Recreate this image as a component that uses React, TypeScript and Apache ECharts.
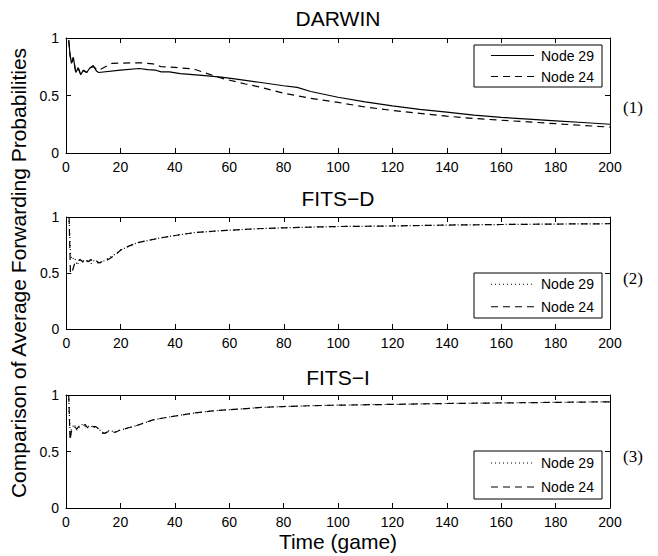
import React, { useEffect, useRef } from "react";
import * as echarts from "echarts";

// ---- tick values ----
const xTicks = [0, 20, 40, 60, 80, 100, 120, 140, 160, 180, 200];
const yTicks = [0, 0.5, 1];

// ---- panel titles ----
const panelTitles = ["DARWIN", "FITS\u2212D", "FITS\u2212I"];
const panelTags = ["(1)", "(2)", "(3)"];
const seriesNames = ["Node 29", "Node 24"];

// ---- DARWIN ----
const darwinX29 = [1, 1.5, 2, 2.7, 3.6, 4.5, 5.4, 6.4, 7.6, 8.8, 10, 11.3, 12, 20, 27, 30, 33, 35, 38, 42, 50, 57, 62, 71, 80, 85, 90, 100, 110, 120, 130, 140, 150, 160, 170, 180, 190, 200];
const darwinY29 = [0.98, 0.85, 0.78, 0.83, 0.7, 0.74, 0.68, 0.72, 0.7, 0.74, 0.76, 0.71, 0.7, 0.72, 0.735, 0.725, 0.72, 0.705, 0.705, 0.69, 0.675, 0.66, 0.645, 0.615, 0.585, 0.57, 0.535, 0.485, 0.445, 0.41, 0.38, 0.355, 0.33, 0.31, 0.295, 0.28, 0.265, 0.25];
const darwinX24 = [1, 1.5, 2, 2.7, 3.6, 4.5, 5.4, 6.4, 7.6, 8.8, 10, 12, 17, 27, 32, 35, 40, 47, 52, 58, 66, 71, 80, 90, 100, 110, 120, 130, 140, 150, 160, 170, 180, 190, 200];
const darwinY24 = [0.98, 0.85, 0.78, 0.83, 0.7, 0.74, 0.68, 0.72, 0.7, 0.74, 0.75, 0.72, 0.78, 0.785, 0.775, 0.75, 0.745, 0.73, 0.69, 0.645, 0.6, 0.575, 0.52, 0.475, 0.44, 0.4, 0.37, 0.345, 0.32, 0.3, 0.285, 0.27, 0.255, 0.24, 0.225];

// ---- FITS-D ----
const fitsdX = [1, 1.5, 2, 3, 4, 5, 6, 7, 8, 9, 10, 11, 12, 13, 14, 16, 18, 20, 23, 26, 30, 35, 40, 47, 55, 60, 70, 80, 90, 100, 120, 140, 160, 180, 200];
const fitsdY29 = [1.0, 0.68, 0.62, 0.64, 0.57, 0.62, 0.6, 0.6, 0.62, 0.58, 0.61, 0.6, 0.58, 0.6, 0.61, 0.64, 0.67, 0.705, 0.74, 0.77, 0.79, 0.815, 0.835, 0.86, 0.875, 0.882, 0.895, 0.903, 0.91, 0.915, 0.92, 0.928, 0.933, 0.937, 0.94];
const fitsdY24 = [1.0, 0.5, 0.5, 0.58, 0.6, 0.62, 0.6, 0.63, 0.6, 0.62, 0.6, 0.61, 0.59, 0.6, 0.6, 0.63, 0.66, 0.705, 0.74, 0.77, 0.79, 0.815, 0.835, 0.86, 0.875, 0.882, 0.895, 0.903, 0.91, 0.915, 0.92, 0.928, 0.933, 0.937, 0.94];

// ---- FITS-I ----
const fitsiX = [1, 1.5, 2, 3, 4, 5, 6, 7, 8, 9, 10, 11, 12, 13, 14, 16, 18, 20, 23, 26, 32, 39, 47, 54, 64, 72, 80, 90, 100, 120, 140, 160, 180, 200];
const fitsiY29 = [1.0, 0.65, 0.7, 0.74, 0.69, 0.72, 0.74, 0.72, 0.73, 0.71, 0.73, 0.7, 0.71, 0.67, 0.65, 0.69, 0.67, 0.69, 0.71, 0.73, 0.78, 0.81, 0.84, 0.86, 0.876, 0.89, 0.898, 0.905, 0.91, 0.917, 0.925, 0.93, 0.935, 0.94];
const fitsiY24 = [1.0, 0.6, 0.68, 0.72, 0.7, 0.73, 0.72, 0.74, 0.71, 0.73, 0.72, 0.72, 0.7, 0.68, 0.66, 0.68, 0.67, 0.69, 0.71, 0.73, 0.78, 0.81, 0.84, 0.86, 0.876, 0.89, 0.898, 0.905, 0.91, 0.917, 0.925, 0.93, 0.935, 0.94];

const FONT = "'Liberation Sans', Arial, Helvetica, sans-serif";
const SERIF = "'Liberation Serif', 'Times New Roman', serif";

const zip = (xs: number[], ys: number[]) => xs.map((x, i) => [x, ys[i]]);

export default function App() {
  const ref = useRef<HTMLDivElement>(null);
  useEffect(() => {
    if (!ref.current) return;
    const chart = echarts.init(ref.current, null, { renderer: "svg" });

    const plotLeft = 66;
    const plotWidth = 544;
    const grids = [
      { top: 38, height: 115 },
      { top: 217, height: 112 },
      { top: 395, height: 113 },
    ];

    const xAxes: any[] = [];
    const yAxes: any[] = [];
    grids.forEach((_, i) => {
      const base = {
        gridIndex: i,
        type: "value",
        min: xTicks[0],
        max: xTicks[xTicks.length - 1],
        interval: xTicks[1] - xTicks[0],
        splitLine: { show: false },
        axisLine: { show: true, onZero: false, lineStyle: { color: "#000", width: 1 } },
        axisTick: { show: true, inside: true, length: 5, lineStyle: { color: "#000" } },
      };
      xAxes.push({
        ...base,
        position: "bottom",
        axisLabel: { show: true, color: "#000", fontSize: 14, fontFamily: FONT, margin: 7 },
        ...(i === 2
          ? {
              name: "Time (game)",
              nameLocation: "middle",
              nameGap: 23,
              nameTextStyle: { color: "#000", fontSize: 21, fontFamily: FONT },
            }
          : {}),
      });
      xAxes.push({ ...base, position: "top", axisLabel: { show: false } });
      const ybase = {
        gridIndex: i,
        type: "value",
        min: yTicks[0],
        max: yTicks[yTicks.length - 1],
        interval: yTicks[1] - yTicks[0],
        splitLine: { show: false },
        axisLine: { show: true, onZero: false, lineStyle: { color: "#000", width: 1 } },
        axisTick: { show: true, inside: true, length: 5, lineStyle: { color: "#000" } },
      };
      yAxes.push({
        ...ybase,
        position: "left",
        axisLabel: { show: true, color: "#000", fontSize: 14, fontFamily: FONT, margin: 7 },
        ...(i === 1
          ? {
              name: "Comparison of Average Forwarding Probabilities",
              nameLocation: "middle",
              nameGap: 31,
              nameTextStyle: { color: "#000", fontSize: 21, fontFamily: FONT },
            }
          : {}),
      });
      yAxes.push({ ...ybase, position: "right", axisLabel: { show: false } });
    });

    const solid = { color: "#000", width: 1.2, type: "solid" };
    const dashed = { color: "#000", width: 1.2, type: [7, 5] };
    const dotted = { color: "#000", width: 1.2, type: [1, 3] };

    const mk = (name: string, gi: number, data: number[][], ls: any) => ({
      type: "line",
      name,
      xAxisIndex: gi * 2,
      yAxisIndex: gi * 2,
      data,
      symbol: "none",
      lineStyle: ls,
      itemStyle: { color: "#000" },
    });

    const series = [
      mk(seriesNames[0], 0, zip(darwinX29, darwinY29), solid),
      mk(seriesNames[1], 0, zip(darwinX24, darwinY24), dashed),
      mk(seriesNames[0], 1, zip(fitsdX, fitsdY29), dotted),
      mk(seriesNames[1], 1, zip(fitsdX, fitsdY24), dashed),
      mk(seriesNames[0], 2, zip(fitsiX, fitsiY29), dotted),
      mk(seriesNames[1], 2, zip(fitsiX, fitsiY24), dashed),
    ];

    const legendBoxes = [
      { y: 45, h: 42, dash: [null, [7, 5]] as any[] },
      { y: 273, h: 45, dash: [[1, 3], [7, 5]] as any[] },
      { y: 451, h: 48, dash: [[1, 3], [7, 5]] as any[] },
    ];
    const graphics: any[] = [];
    legendBoxes.forEach((lb) => {
      const rowGap = lb.h / 2;
      const r1 = lb.y + lb.h / 2 - rowGap / 2;
      const r2 = lb.y + lb.h / 2 + rowGap / 2;
      const children: any[] = [
        { type: "rect", shape: { x: 474, y: lb.y, width: 128, height: lb.h }, style: { fill: "#fff", stroke: "#000", lineWidth: 1 } },
      ];
      [r1, r2].forEach((ry, k) => {
        children.push({
          type: "line",
          shape: { x1: 491, y1: ry, x2: 534, y2: ry },
          style: { stroke: "#000", lineWidth: 1.2, lineDash: lb.dash[k] || undefined },
        });
        children.push({
          type: "text",
          x: 541,
          y: ry,
          style: { text: seriesNames[k], fill: "#000", fontSize: 14, fontFamily: FONT, verticalAlign: "middle" },
        });
      });
      graphics.push({ type: "group", z: 100, children });
    });

    const titleY = [18, 198, 377];
    titleY.forEach((ty, i) => {
      graphics.push({
        type: "text",
        x: plotLeft + plotWidth / 2,
        y: ty,
        z: 100,
        style: { text: panelTitles[i], fill: "#000", fontSize: 21, fontFamily: FONT, align: "center", verticalAlign: "middle" },
      });
    });
    const tagY = [107, 278, 456];
    tagY.forEach((ty, i) => {
      graphics.push({
        type: "text",
        x: 633,
        y: ty,
        z: 100,
        style: { text: panelTags[i], fill: "#000", fontSize: 17, fontFamily: SERIF, align: "center", verticalAlign: "middle" },
      });
    });

    chart.setOption({
      animation: false,
      backgroundColor: "#fff",
      grid: grids.map((g) => ({ left: plotLeft, width: plotWidth, top: g.top, height: g.height, containLabel: false })),
      xAxis: xAxes,
      yAxis: yAxes,
      series,
      graphic: graphics,
    });

    return () => chart.dispose();
  }, []);

  return <div ref={ref} style={{ position: "absolute", left: 0, top: 0, width: 658, height: 556 }} />;
}
